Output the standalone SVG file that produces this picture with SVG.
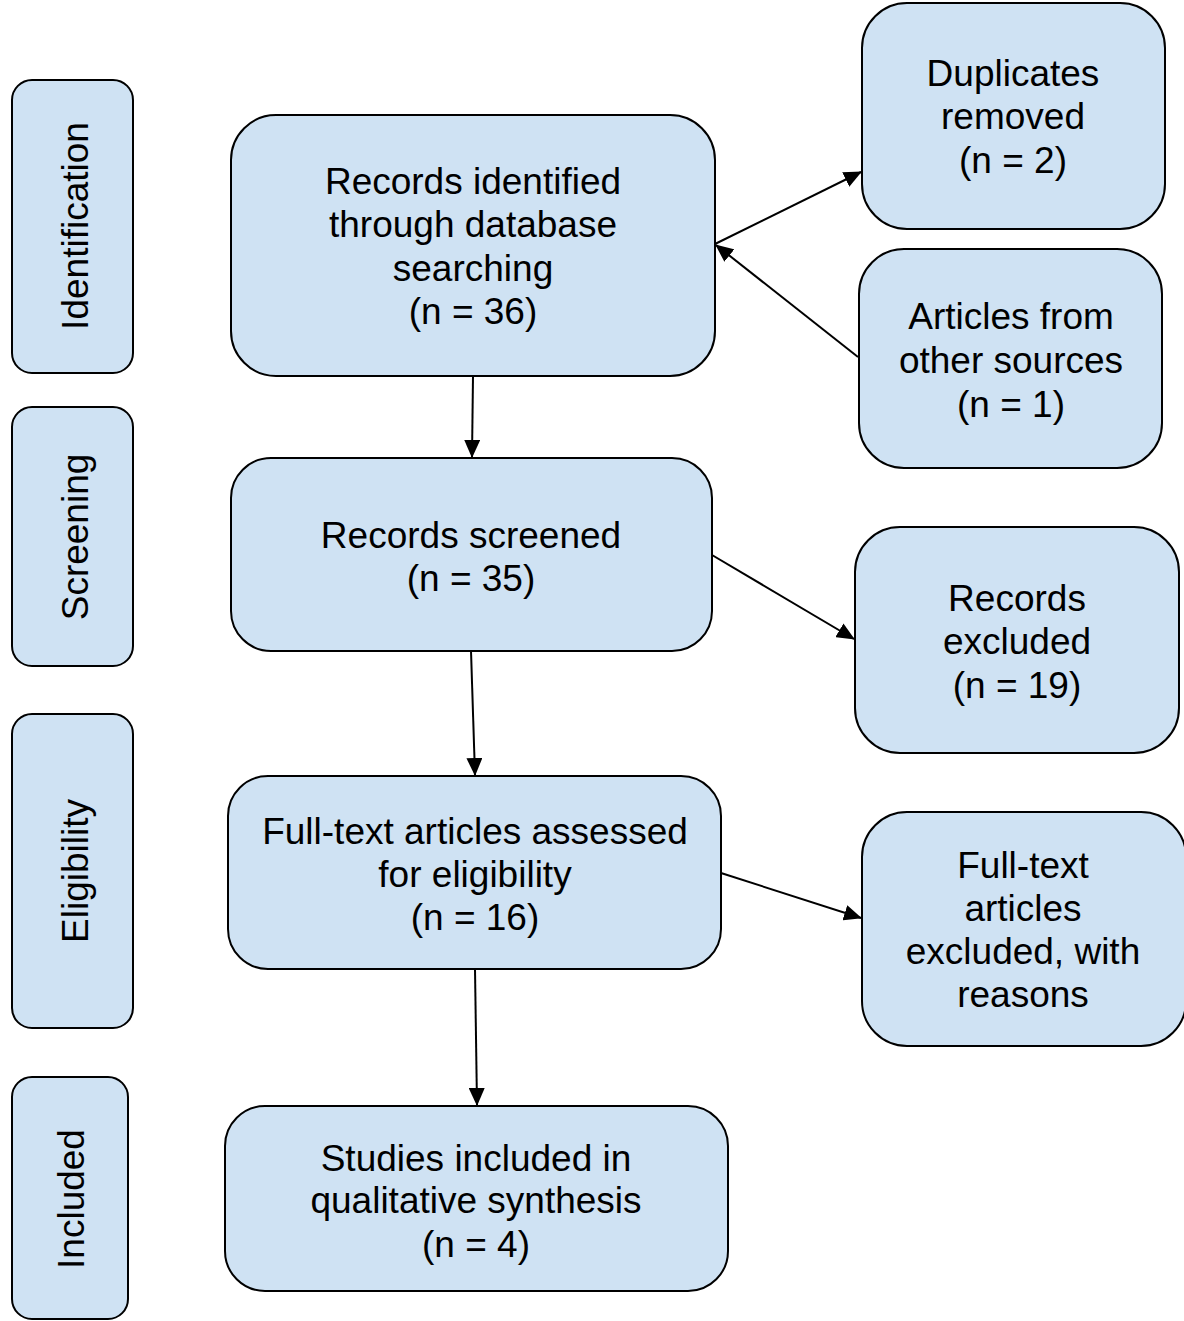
<svg xmlns="http://www.w3.org/2000/svg" width="1184" height="1321" viewBox="0 0 1184 1321">
<style>
.box{fill:#cfe2f3;stroke:#000;stroke-width:2}
.t{font-family:"Liberation Sans",Arial,sans-serif;font-size:37px;fill:#000;text-anchor:middle}
.c{stroke:#000;stroke-width:2;fill:none;marker-end:url(#ah)}
</style>
<defs>
<marker id="ah" markerWidth="18" markerHeight="16" refX="17" refY="8" orient="auto" markerUnits="userSpaceOnUse" viewBox="0 0 18 16">
<path d="M0,0 L18,8 L0,16 z" fill="#000"/>
</marker>
</defs>
<rect width="1184" height="1321" fill="#fff"/>
<g id="phase-identification">
<rect class="box" x="12" y="80" width="121" height="293" rx="20"/>
<text class="t" transform="translate(88,226) rotate(-90)">Identification</text>
</g>
<g id="phase-screening">
<rect class="box" x="12" y="407" width="121" height="259" rx="20"/>
<text class="t" transform="translate(88,537) rotate(-90)">Screening</text>
</g>
<g id="phase-eligibility">
<rect class="box" x="12" y="714" width="121" height="314" rx="20"/>
<text class="t" transform="translate(88,871) rotate(-90)">Eligibility</text>
</g>
<g id="phase-included">
<rect class="box" x="12" y="1077" width="116" height="242" rx="20"/>
<text class="t" transform="translate(84,1199) rotate(-90)">Included</text>
</g>
<g id="records-identified">
<rect class="box" x="231" y="115" width="484" height="261" rx="45"/>
<text class="t" x="473" y="194">Records identified</text>
<text class="t" x="473" y="237">through database</text>
<text class="t" x="473" y="281">searching</text>
<text class="t" x="473" y="324">(n = 36)</text>
</g>
<g id="duplicates-removed">
<rect class="box" x="862" y="3" width="303" height="226" rx="45"/>
<text class="t" x="1013" y="86">Duplicates</text>
<text class="t" x="1013" y="129">removed</text>
<text class="t" x="1013" y="173">(n = 2)</text>
</g>
<g id="other-sources">
<rect class="box" x="859" y="249" width="303" height="219" rx="45"/>
<text class="t" x="1011" y="329">Articles from</text>
<text class="t" x="1011" y="373">other sources</text>
<text class="t" x="1011" y="417">(n = 1)</text>
</g>
<g id="records-screened">
<rect class="box" x="231" y="458" width="481" height="193" rx="40"/>
<text class="t" x="471" y="548">Records screened</text>
<text class="t" x="471" y="591">(n = 35)</text>
</g>
<g id="records-excluded">
<rect class="box" x="855" y="527" width="324" height="226" rx="45"/>
<text class="t" x="1017" y="611">Records</text>
<text class="t" x="1017" y="654">excluded</text>
<text class="t" x="1017" y="698">(n = 19)</text>
</g>
<g id="full-text-assessed">
<rect class="box" x="228" y="776" width="493" height="193" rx="40"/>
<text class="t" x="475" y="844">Full-text articles assessed</text>
<text class="t" x="475" y="887">for eligibility</text>
<text class="t" x="475" y="930">(n = 16)</text>
</g>
<g id="full-text-excluded">
<rect class="box" x="862" y="812" width="324" height="234" rx="45"/>
<text class="t" x="1023" y="878">Full-text</text>
<text class="t" x="1023" y="921">articles</text>
<text class="t" x="1023" y="964">excluded, with</text>
<text class="t" x="1023" y="1007">reasons</text>
</g>
<g id="studies-included">
<rect class="box" x="225" y="1106" width="503" height="185" rx="40"/>
<text class="t" x="476" y="1171">Studies included in</text>
<text class="t" x="476" y="1213">qualitative synthesis</text>
<text class="t" x="476" y="1257">(n = 4)</text>
</g>
<g id="connectors">
<line class="c" x1="715" y1="244" x2="861" y2="172"/>
<line class="c" x1="858" y1="357" x2="716" y2="245"/>
<line class="c" x1="473" y1="376" x2="472" y2="457"/>
<line class="c" x1="712" y1="555" x2="854" y2="639"/>
<line class="c" x1="471" y1="651" x2="475" y2="775"/>
<line class="c" x1="721" y1="873" x2="861" y2="918"/>
<line class="c" x1="475" y1="969" x2="477" y2="1105"/>
</g>
</svg>
